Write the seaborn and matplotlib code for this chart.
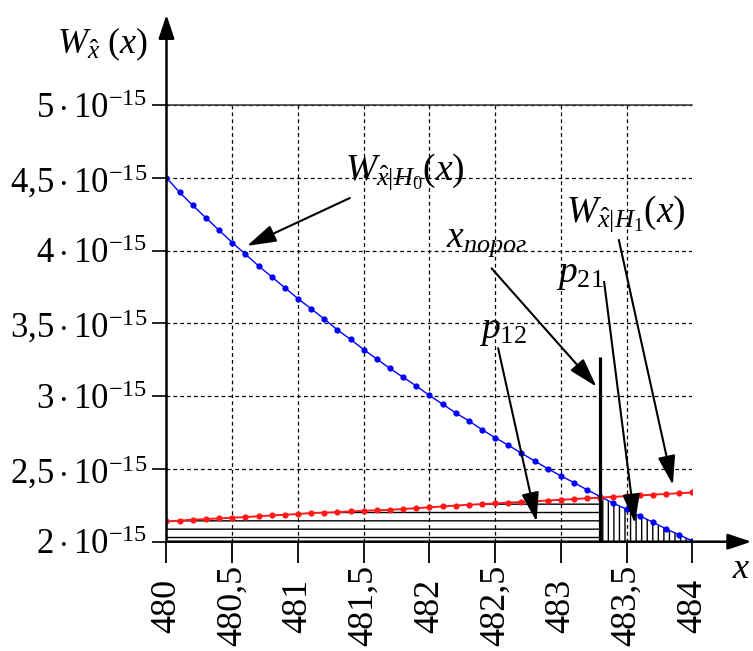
import numpy as np
import pandas as pd
import matplotlib
matplotlib.use("Agg")
import matplotlib.pyplot as plt
import seaborn as sns

# ---------------- data (values in units of 1e-15) ----------------
x_vals = [480.0, 480.1, 480.2, 480.3, 480.4, 480.5, 480.6, 480.7, 480.8, 480.9,
          481.0, 481.1, 481.2, 481.3, 481.4, 481.5, 481.6, 481.7, 481.8, 481.9,
          482.0, 482.1, 482.2, 482.3, 482.4, 482.5, 482.6, 482.7, 482.8, 482.9,
          483.0, 483.1, 483.2, 483.3, 483.4, 483.5, 483.6, 483.7, 483.8, 483.9,
          484.0]
w_h0 = [4.50, 4.40, 4.31, 4.225, 4.14, 4.055, 3.975, 3.895, 3.82, 3.745,
        3.67, 3.60, 3.53, 3.455, 3.39, 3.32, 3.255, 3.19, 3.13, 3.07,
        3.005, 2.945, 2.885, 2.83, 2.77, 2.715, 2.663, 2.608, 2.555, 2.502,
        2.452, 2.406, 2.356, 2.31, 2.264, 2.223, 2.177, 2.134, 2.088, 2.047,
        2.005]
w_h1 = [2.139, 2.145, 2.151, 2.155, 2.160, 2.165, 2.169, 2.175, 2.180, 2.185,
        2.190, 2.197, 2.200, 2.203, 2.208, 2.212, 2.216, 2.219, 2.225, 2.230,
        2.236, 2.242, 2.248, 2.254, 2.258, 2.263, 2.268, 2.273, 2.278, 2.283,
        2.288, 2.293, 2.298, 2.303, 2.308, 2.313, 2.318, 2.323, 2.328, 2.333,
        2.338]
x_threshold = 483.3
threshold_top = 3.27
scale = 1e-15

x_ticks = [480, 480.5, 481, 481.5, 482, 482.5, 483, 483.5, 484]
x_ticklabels = ["480", "480,5", "481", "481,5", "482", "482,5", "483", "483,5", "484"]
y_ticks = [2.0, 2.5, 3.0, 3.5, 4.0, 4.5, 5.0]
y_ticklabels = [r"$2\cdot10^{-15}$", r"$2{,}5\cdot10^{-15}$", r"$3\cdot10^{-15}$",
                r"$3{,}5\cdot10^{-15}$", r"$4\cdot10^{-15}$", r"$4{,}5\cdot10^{-15}$",
                r"$5\cdot10^{-15}$"]

# ---------------- style ----------------
sns.set_theme(style="white")
plt.rcParams["font.family"] = ["Liberation Serif", "DejaVu Serif"]
plt.rcParams["mathtext.fontset"] = "custom"
plt.rcParams["mathtext.rm"] = "Liberation Serif"
plt.rcParams["mathtext.it"] = "Liberation Serif:italic"
plt.rcParams["mathtext.bf"] = "Liberation Serif:bold"
plt.rcParams["hatch.linewidth"] = 1.0
for k in ["text.color", "axes.labelcolor", "xtick.color", "ytick.color"]:
    plt.rcParams[k] = "black"

df = pd.DataFrame({"x": x_vals,
                   "h0": np.array(w_h0) * scale,
                   "h1": np.array(w_h1) * scale})

fig = plt.figure(figsize=(7.53, 6.51), dpi=100)
ax = fig.add_axes([0.2211, 0.1679, 0.6983, 0.6708])

# hatched areas
n_thr = x_vals.index(x_threshold)
ax.fill_between(df["x"][:n_thr + 1], 2 * scale, df["h1"][:n_thr + 1],
                facecolor="none", edgecolor="black", hatch="--", linewidth=0, zorder=2)
ax.fill_between(df["x"][n_thr:], 2 * scale, df["h0"][n_thr:],
                facecolor="none", edgecolor="black", hatch="|||", linewidth=0, zorder=2)

sns.lineplot(data=df, x="x", y="h0", ax=ax, color="#0000ff", lw=1.0,
             marker="o", markersize=4.5, markeredgewidth=0, zorder=4)
sns.lineplot(data=df, x="x", y="h1", ax=ax, color="#ff1a1a", lw=1.4,
             marker="o", markersize=4.5, markeredgewidth=0, zorder=4)

# threshold
ax.plot([x_threshold, x_threshold], [2 * scale, threshold_top * scale],
        color="black", lw=2.3, zorder=5, solid_capstyle="butt")

ax.set_xlim(480, 484)
ax.set_ylim(2 * scale, 5 * scale)
ax.set_xlabel("")
ax.set_ylabel("")

ax.set_xticks(x_ticks)
ax.set_xticklabels(x_ticklabels, rotation=90, va="center", fontsize=26)
ax.set_yticks([v * scale for v in y_ticks])
ax.set_yticklabels(y_ticklabels, fontsize=25)
ax.tick_params(axis="x", direction="out", length=15, width=1.3, pad=31,
               color="black", bottom=True)
ax.tick_params(axis="y", direction="out", length=10, width=1.2, pad=4,
               color="black", left=True)

ax.grid(True, color="black", linestyle=(0, (3, 2.5)), linewidth=0.9, zorder=1)
ax.xaxis.get_major_ticks()[-1].gridline.set_visible(False)
ax.set_axisbelow(True)

for s in ["left", "bottom", "right"]:
    ax.spines[s].set_visible(False)
ax.spines["top"].set_visible(True)
ax.spines["top"].set_color("#333333")
ax.spines["top"].set_linewidth(1.1)

# axis arrows
axis_arrow = dict(arrowstyle="-|>,head_length=0.9,head_width=0.3", lw=1.8,
                  color="black", shrinkA=0, shrinkB=0, mutation_scale=16)
ax.annotate("", xy=(480, 5.62 * scale), xytext=(480, 2 * scale),
            arrowprops=axis_arrow, annotation_clip=False, zorder=6)
ax.annotate("", xy=(484.45, 2 * scale), xytext=(480, 2 * scale),
            arrowprops=axis_arrow, annotation_clip=False, zorder=6)

ax.text(479.86, 5.357 * scale, r"$W_{\hat{x}}\ (x)$", fontsize=26,
        ha="right", va="baseline", clip_on=False)
ax.text(484.37, 1.75 * scale, r"$x$", fontsize=26,
        ha="center", va="baseline", clip_on=False)

# annotations
ann_arrow = dict(arrowstyle="-|>,head_length=1.0,head_width=0.3", lw=1.5,
                 color="black", shrinkA=0, shrinkB=0, mutation_scale=18)
labels = [
    (r"$W_{\hat{x}|H_0}(x)$", (481.357, 4.485), (481.395, 4.361), (480.612, 4.032)),
    (r"$W_{\hat{x}|H_1}(x)$", (483.042, 4.196), (483.441, 4.073), (483.852, 2.39)),
    (r"$x_{порог}$", (482.125, 4.025), (482.473, 3.878), (483.271, 3.065)),
    (r"$p_{21}$", (482.962, 3.784), (483.329, 3.786), (483.563, 2.127)),
    (r"$p_{12}$", (482.379, 3.398), (482.523, 3.329), (482.815, 2.138)),
]
for txt, (tx, ty), (ax0, ay0), (ax1, ay1) in labels:
    ax.text(tx, ty * scale, txt, fontsize=27, ha="left", va="baseline",
            clip_on=False, zorder=7)
    ax.annotate("", xy=(ax1, ay1 * scale), xytext=(ax0, ay0 * scale),
                arrowprops=ann_arrow, annotation_clip=False, zorder=7)

fig.savefig("out.png", dpi=100)
